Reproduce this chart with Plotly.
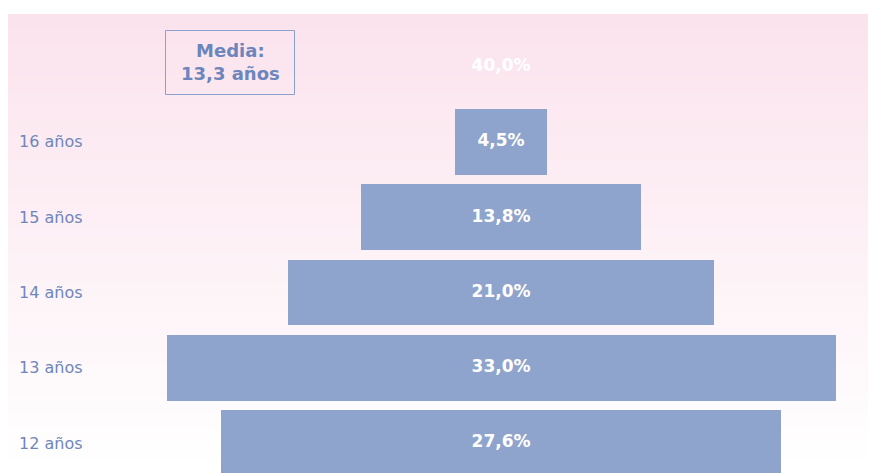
import plotly.graph_objects as go

# ---- data ----
row_labels = ["12 años", "13 años", "14 años", "15 años", "16 años", ""]
values = [27.6, 33.0, 21.0, 13.8, 4.5, 40.0]
bar_colors = ["#8FA4CC", "#8FA4CC", "#8FA4CC", "#8FA4CC", "#8FA4CC", "rgba(0,0,0,0)"]
label_texts = ["<b>" + f"{v:.1f}%".replace(".", ",") + "</b>" for v in values]
mean_text = "Media:<br>13,3 años"

OFF = 0
W, H = 870, 473
ml, mr, mt, mb = 8, 2, 14, 0

idx = list(range(len(values)))
bases = [-v / 2 for v in values]

fig = go.Figure()
fig.add_trace(go.Bar(
    orientation="h", x=values, y=idx, base=bases,
    marker=dict(color=bar_colors, line=dict(width=0)),
    width=0.874, hoverinfo="skip", showlegend=False,
))
fig.add_trace(go.Scatter(
    x=[0] * len(values), y=idx, mode="text", text=label_texts,
    textfont=dict(family="DejaVu Sans", size=17, color="white"),
    textposition="middle center", cliponaxis=False,
    hoverinfo="skip", showlegend=False,
))

# gradient background (pink top -> white bottom)
n = 60
top = (251, 227, 237)
bot = (255, 255, 255)
shapes = []
for i in range(n):
    t = i / (n - 1)
    c = tuple(round(top[k] + (bot[k] - top[k]) * t) for k in range(3))
    shapes.append(dict(
        type="rect", xref="paper", yref="paper", x0=0, x1=1,
        y0=max(0, 1 - (i + 1) / n - 0.002), y1=1 - i / n,
        fillcolor=f"rgb{c}", line=dict(width=0), layer="below",
    ))

plot_w = W - ml - mr
plot_h = H - mt - mb
def px_x(p):
    return (p - OFF - ml) / plot_w
def px_y(p):
    return 1 - (p - OFF - mt) / plot_h

shapes.append(dict(
    type="rect", xref="paper", yref="paper",
    x0=px_x(165.5), x1=px_x(294.5), y0=px_y(94.5), y1=px_y(30.5),
    line=dict(color="#8AA0CF", width=1), fillcolor="rgba(0,0,0,0)",
))

annotations = []
for i, lab in enumerate(row_labels):
    if lab:
        annotations.append(dict(
            xref="paper", yref="y", x=px_x(17), y=i, text=lab,
            showarrow=False, xanchor="left", yanchor="middle",
            font=dict(family="DejaVu Sans", size=16, color="#6F86BB"),
        ))
annotations.append(dict(
    xref="paper", yref="paper", x=px_x(230), y=px_y(62),
    text="<b>" + mean_text.replace("<br>", "</b><br><b>") + "</b>",
    showarrow=False, xanchor="center", yanchor="middle",
    font=dict(family="DejaVu Sans", size=18, color="#6C85BC"),
))

fig.update_layout(
    width=W, height=H,
    margin=dict(l=ml, r=mr, t=mt, b=mb),
    paper_bgcolor="white", plot_bgcolor="rgba(0,0,0,0)",
    xaxis=dict(range=[-24.32, 18.10], visible=False, fixedrange=True),
    yaxis=dict(range=[-0.397, 5.70], visible=False, fixedrange=True),
    shapes=shapes, annotations=annotations,
    bargap=0,
)

fig.write_html(
    "out.html",
    config={"displayModeBar": False},
    post_script="document.body.style.margin='0px';document.body.style.overflow='hidden';",
)
